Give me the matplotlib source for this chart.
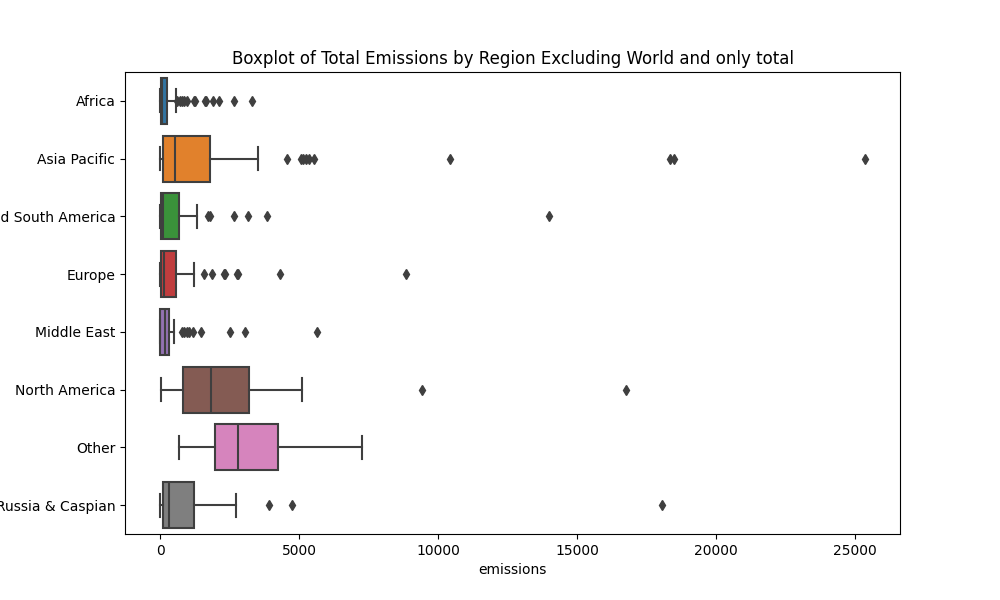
import matplotlib
matplotlib.use('Agg')
import matplotlib.pyplot as plt

REGIONS = ['Africa', 'Asia Pacific', 'Central and South America', 'Europe',
           'Middle East', 'North America', 'Other', 'Russia & Caspian']

# box statistics (emissions)
WHISKER_LOW = [0, 0, 0, 0, 0, 25, 670, 0]
Q1 = [20, 95, 10, 20, 0, 815, 1960, 85]
MEDIAN = [70, 530, 110, 120, 155, 1810, 2810, 320]
Q3 = [250, 1800, 690, 570, 300, 3210, 4250, 1200]
WHISKER_HIGH = [560, 3520, 1320, 1230, 480, 5100, 7250, 2720]

AFRICA_FLIERS = [620, 700, 780, 850, 950, 1200, 1250, 1600, 1650, 1900, 2100, 2650, 3300]
ASIA_FLIERS = [4570, 5050, 5150, 5250, 5350, 5550, 10420, 18350, 18500, 25350]
CSA_FLIERS = [1720, 1780, 2670, 3170, 3830, 14000]
EUROPE_FLIERS = [1590, 1850, 2280, 2320, 2750, 2800, 4310, 8850]
MIDEAST_FLIERS = [800, 870, 950, 1050, 1180, 1460, 2520, 3060, 5650]
NAMERICA_FLIERS = [9420, 16750]
OTHER_FLIERS = []
RUSSIA_FLIERS = [3910, 4750, 18050]

COLORS = ['#3274a1', '#e1812c', '#3a923a', '#c03d3e',
          '#9372b2', '#845b53', '#d684bd', '#7f7f7f']
LINE_GRAY = '#3f3f3f'


def get_stats():
    fliers = [AFRICA_FLIERS, ASIA_FLIERS, CSA_FLIERS, EUROPE_FLIERS,
              MIDEAST_FLIERS, NAMERICA_FLIERS, OTHER_FLIERS, RUSSIA_FLIERS]
    stats = []
    for i in range(len(REGIONS)):
        stats.append({
            'whislo': WHISKER_LOW[i],
            'q1': Q1[i],
            'med': MEDIAN[i],
            'q3': Q3[i],
            'whishi': WHISKER_HIGH[i],
            'fliers': fliers[i],
            'label': REGIONS[i],
        })
    return stats


def main():
    fig, ax = plt.subplots(figsize=(10, 6), dpi=100)
    positions = list(range(len(REGIONS)))
    parts = ax.bxp(get_stats(), positions=positions, orientation='horizontal',
                   widths=0.8, patch_artist=True, showfliers=True,
                   boxprops=dict(edgecolor=LINE_GRAY, linewidth=1.5),
                   medianprops=dict(color=LINE_GRAY, linewidth=1.5),
                   whiskerprops=dict(color=LINE_GRAY, linewidth=1.5),
                   capprops=dict(color=LINE_GRAY, linewidth=1.5),
                   flierprops=dict(marker='d', markersize=5,
                                   markerfacecolor=LINE_GRAY,
                                   markeredgecolor=LINE_GRAY,
                                   linestyle='none'))
    for box, color in zip(parts['boxes'], COLORS):
        box.set_facecolor(color)

    ax.set_yticks(positions)
    ax.set_yticklabels(REGIONS)
    ax.set_ylim(len(REGIONS) - 0.5, -0.5)
    ax.set_title('Boxplot of Total Emissions by Region Excluding World and only total')
    ax.set_xlabel('emissions')

    fig.savefig('out.png')


if __name__ == '__main__':
    main()
